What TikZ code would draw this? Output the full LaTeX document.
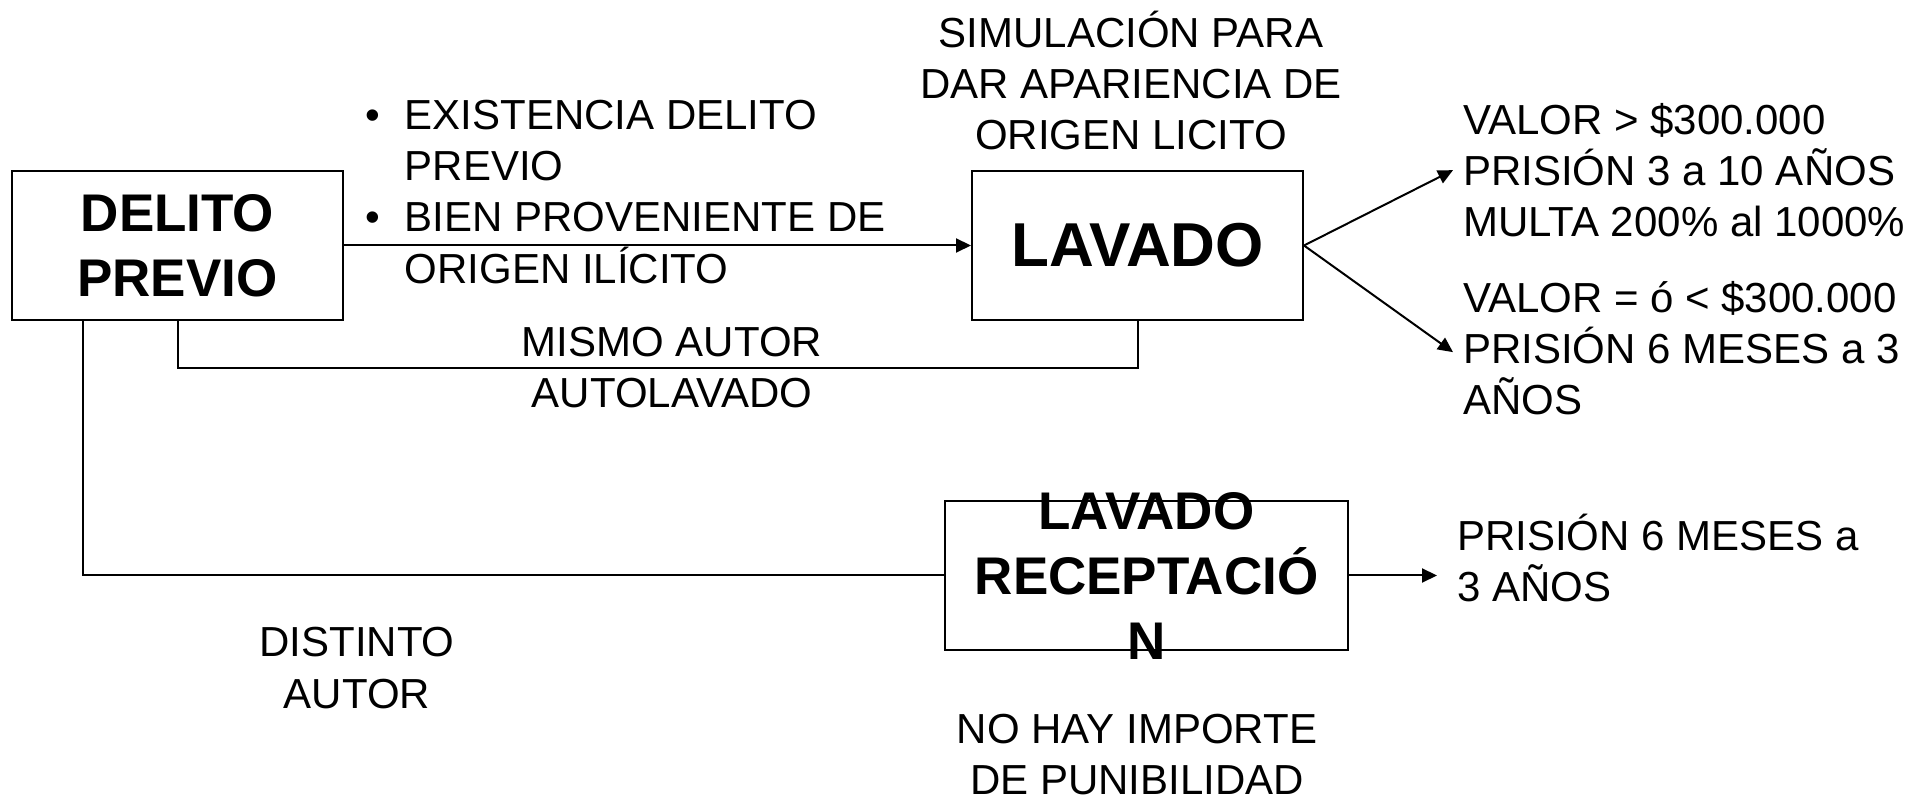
\documentclass[tikz,border=0pt]{standalone}
\usepackage{fontspec}
\setmainfont{Liberation Sans}
\usetikzlibrary{arrows.meta}
\tikzset{
  caja/.style={draw,line width=2pt,inner sep=0,minimum width=331,minimum height=149,align=center},
  negra/.style={font=\fontsize{53}{65}\selectfont\bfseries},
  texto/.style={inner sep=0,font=\fontsize{42}{51}\selectfont},
  flecha/.style={line width=2pt,-{Triangle[length=15pt,width=14pt]}},
  linea/.style={line width=2pt}
}
\begin{document}
\begin{tikzpicture}[x=1pt,y=1pt]
\useasboundingbox (0,0) rectangle (1927,798);
\node[caja,negra](DP) at (177.5,552.5){DELITO\\PREVIO};
\node[caja,font=\fontsize{62}{74}\selectfont\bfseries,node distance=960pt,right of = DP](LV){LAVADO};
\node[caja,minimum width=403,node distance=330pt,below of = LV,xshift=9](LR){};
\node[negra,inner sep=0,align=center](LRT) at (LR){LAVADO\\RECEPTACIÓ\\N};
\node[texto,node distance=187.5pt,right of = DP,yshift=115.5,anchor=base west](BUL){\begin{tabular}[t]{@{}l@{\hspace{25pt}}l@{}}\textbullet&EXISTENCIA DELITO\\&PREVIO\\\textbullet&BIEN PROVENIENTE DE\\&ORIGEN ILÍCITO\end{tabular}};
\node[texto,align=center,node distance=96pt,above of = LV,xshift=-6.5,anchor=base](SIM){SIMULACIÓN PARA\\DAR APARIENCIA DE\\ORIGEN LICITO};
\node[texto,align=left,node distance=325.5pt,right of = LV,yshift=9,anchor=base west](V1){VALOR > \$300.000\\PRISIÓN 3 a 10 AÑOS\\MULTA 200\% al 1000\%};
\node[texto,align=left,node distance=325.5pt,right of = LV,yshift=-169,anchor=base west](V2){VALOR = ó < \$300.000\\PRISIÓN 6 MESES a 3\\AÑOS};
\node[texto,align=center,node distance=494.5pt,right of = DP,yshift=-162.5,anchor=base](MIS){MISMO AUTOR\\AUTOLAVADO};
\node[texto,align=center,node distance=179.5pt,right of = DP,yshift=-462.5,anchor=base](DIS){DISTINTO\\AUTOR};
\node[texto,align=left,node distance=310.5pt,right of = LR,yshift=-26.5,anchor=base west](PR){PRISIÓN 6 MESES a\\3 AÑOS};
\node[texto,align=center,node distance=218.5pt,below of = LR,xshift=-9.5,anchor=base](NOH){NO HAY IMPORTE\\DE PUNIBILIDAD};
\draw[flecha](DP)--(LV);
\draw[flecha](LV.east)--([xshift=-10]V1.west);
\draw[flecha](LV.east)--([xshift=-10,yshift=-4]V2.west);
\draw[flecha,shorten >=20pt](LR.east)--(LR.east-|PR.west);
\draw[linea](DP.south)|-([yshift=-47]LV.south)--(LV.south);
\draw[linea]([xshift=72]DP.south west)|-(LR.west);
\end{tikzpicture}
\end{document}
